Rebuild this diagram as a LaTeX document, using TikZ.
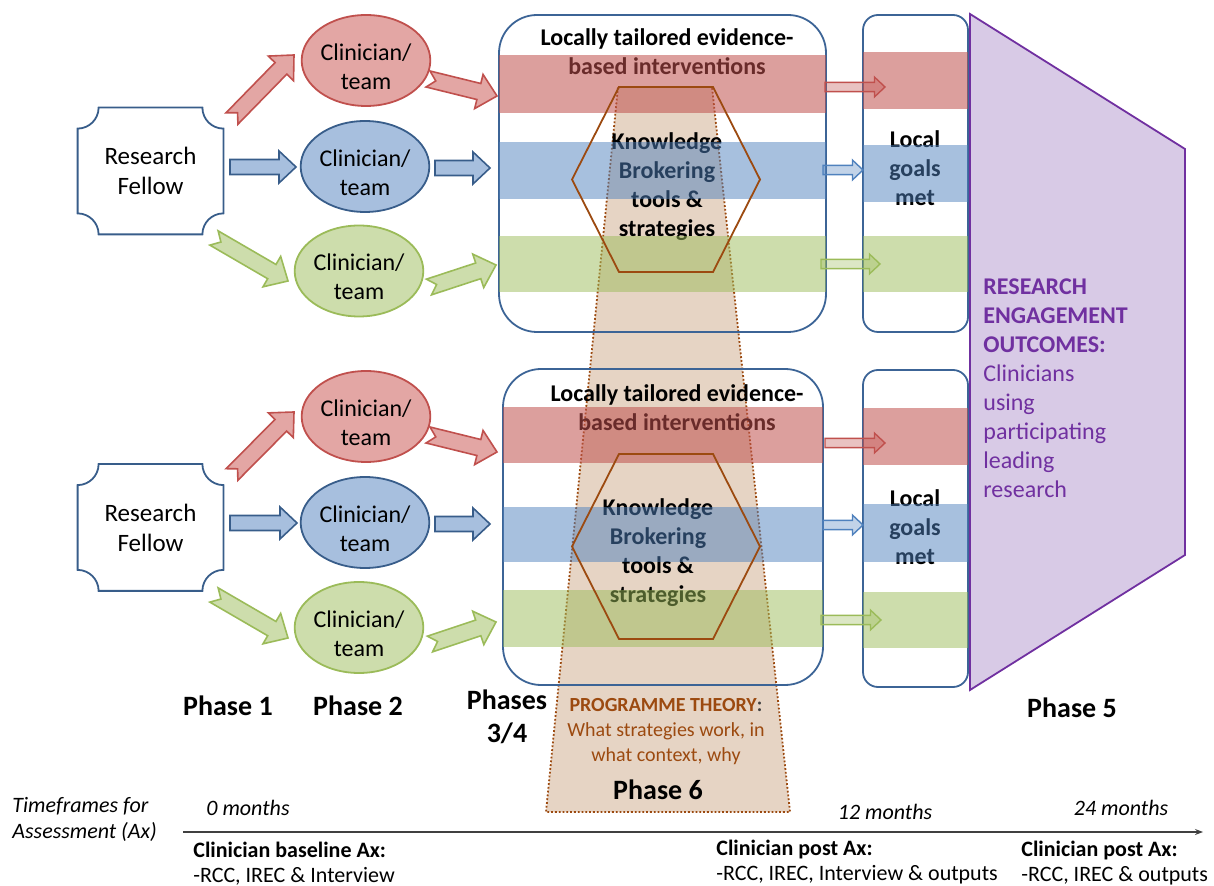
\documentclass[tikz,border=0pt]{standalone}
\usepackage{fontspec}
\setmainfont{Carlito}
\usetikzlibrary{calc,shapes.geometric,arrows.meta}

\definecolor{offred}{HTML}{C0504D}
\definecolor{offblue}{HTML}{4F81BD}
\definecolor{offgreen}{HTML}{9BBB59}
\definecolor{darkblue}{HTML}{385D8A}
\definecolor{boxblue}{HTML}{3C6496}
\definecolor{lightred}{HTML}{E3A6A4}
\definecolor{lightblue}{HTML}{A7BFDE}
\definecolor{lightgreen}{HTML}{CDDDAC}
\definecolor{brownline}{HTML}{9C4A10}
\definecolor{tanfill}{HTML}{CDA989}
\definecolor{purpleline}{HTML}{7030A0}
\definecolor{purplefill}{HTML}{D8CAE6}

\tikzset{
  txt/.style={inner sep=0pt, align=center, font=\fontsize{12}{14.5}\selectfont},
  txtb/.style={inner sep=0pt, align=center, font=\fontsize{12}{14.5}\selectfont\bfseries},
  phase/.style={inner sep=0pt, align=center, font=\fontsize{14}{16.5}\selectfont\bfseries},
  small/.style={inner sep=0pt, align=left, font=\fontsize{11}{12.5}\selectfont},
  clin/.style={ellipse, draw=#1, line width=0.9pt, minimum width=63pt, minimum height=45.5pt, txt, text height=29pt, text depth=0pt},
  rfbox/.style={minimum width=72.5pt, minimum height=63pt, txt, font=\fontsize{12.5}{15}\selectfont},
  rfline/.style={draw=darkblue, line width=0.9pt},
  bigbox/.style={draw=boxblue, line width=0.9pt, rounded corners=19pt, minimum width=163.5pt, minimum height=158.5pt, inner sep=0pt},
  goalbox/.style={draw=boxblue, line width=0.9pt, rounded corners=7.5pt, minimum width=52.5pt, minimum height=158.5pt, inner sep=0pt},
  bandred/.style={fill=offred, fill opacity=0.55},
  bandblue/.style={fill=offblue, fill opacity=0.5},
  bandgreen/.style={fill=offgreen, fill opacity=0.5},
  hexline/.style={draw=brownline, line width=0.9pt},
  arrred/.style={draw=offred, fill=lightred, line width=0.8pt},
  arrblue/.style={draw=darkblue, fill=lightblue, line width=0.8pt},
  arrgreen/.style={draw=offgreen, fill=lightgreen, line width=0.8pt},
  thinred/.style={draw=offred, fill=offred, fill opacity=0.35, line width=0.7pt},
  thinblue/.style={draw=offblue, fill=offblue, fill opacity=0.35, line width=0.7pt},
  thingreen/.style={draw=offgreen, fill=offgreen, fill opacity=0.35, line width=0.7pt},
}

% block arrow: [style]{from}{to}{notch depth}{width factor}
\newcommand{\blockarrow}[5][]{%
  \pgfmathsetlengthmacro\bash{3.75pt*#5}%
  \pgfmathsetlengthmacro\bahw{8pt*#5}%
  \pgfmathsetlengthmacro\bahl{8.5pt*#5}%
  \coordinate (bah) at ($(#3)!\bahl!(#2)$);
  \coordinate (ban) at ($(#2)!#4!(#3)$);
  \draw[#1] ($(#2)!\bash!90:(#3)$) -- ($(bah)!\bash!90:(#3)$) -- ($(bah)!\bahw!90:(#3)$) -- (#3) -- ($(bah)!\bahw!-90:(#3)$) -- ($(bah)!\bash!-90:(#3)$) -- ($(#2)!\bash!-90:(#3)$) -- (ban) -- cycle;
}

\begin{document}
\begin{tikzpicture}[x=0.5pt,y=0.5pt,yscale=-1,xscale=1]
\useasboundingbox (0,0) rectangle (1214,886);

%Shape: Trapezoid (outcomes)
\draw[draw=purpleline, fill=purplefill, line width=0.9pt] (970,14) -- (1185,149) -- (1185,555) -- (970,690) -- cycle;
% Text Node
\node[anchor=west, inner sep=0pt, align=left, text=purpleline, font=\fontsize{12}{14.5}\selectfont] (ro) at (983,388) {\textbf{RESEARCH}\\\textbf{ENGAGEMENT}\\\textbf{OUTCOMES:}\\Clinicians\\using\\participating\\leading\\research};

%Shape: Trapezoid (phase 6)
\draw[draw=brownline, fill=tanfill, fill opacity=0.5, densely dotted, line width=0.9pt] (618,87) -- (712,87) -- (790,812) -- (546,812) -- cycle;

%Shape: Rounded Rect
\node[bigbox] (ib1) at (662.5,173.5) {};
\node[bigbox, minimum width=160pt, minimum height=158pt] (ib2) at (663,527) {};
\node[goalbox] (gb1) at (915.5,173.5) {};
\node[goalbox] (gb2) at (915.5,528.5) {};

% Text Node
\node[txtb] (lt1) at (667,52) {Locally tailored evidence-\\based interventions};
\node[txtb] (lt2) at (677,408) {Locally tailored evidence-\\based interventions};
\node[txtb] (kb1) at (667,187) {Knowledge\\Brokering\\tools \&\\strategies};
\node[txtb] (kb2) at (658,553) {Knowledge\\Brokering\\tools \&\\strategies};
\node[txtb] (lg1) at (915,168) {Local\\goals\\met};
\node[txtb] (lg2) at (915,527) {Local\\goals\\met};

%Straight Lines (box to goals)
\coordinate (s13) at (825,87);  \coordinate (e13) at (885,87);
\coordinate (s14) at (823,170); \coordinate (e14) at (863,170);
\coordinate (s15) at (821,264); \coordinate (e15) at (880,264);
\coordinate (s16) at (825,443); \coordinate (e16) at (885,443);
\coordinate (s17) at (823,525); \coordinate (e17) at (863,525);
\coordinate (s18) at (821,620); \coordinate (e18) at (881,620);
\blockarrow[thinred]{s13}{e13}{0pt}{0.62}
\blockarrow[thinblue]{s14}{e14}{0pt}{0.62}
\blockarrow[thingreen]{s15}{e15}{0pt}{0.62}
\blockarrow[thinred]{s16}{e16}{0pt}{0.62}
\blockarrow[thinblue]{s17}{e17}{0pt}{0.62}
\blockarrow[thingreen]{s18}{e18}{0pt}{0.62}

%Shape: Rectangle (bands)
\fill[bandred] (499,55) rectangle (826,113);
\fill[bandblue] (499,142) rectangle (826,199);
\fill[bandgreen] (499,236) rectangle (826,292);
\fill[bandred] (863,52) rectangle (968,109);
\fill[bandblue] (863,145) rectangle (968,202);
\fill[bandgreen] (863,236) rectangle (968,292);
\fill[bandred] (503,407) rectangle (823,463);
\fill[bandblue] (503,507) rectangle (823,562);
\fill[bandgreen] (503,590) rectangle (823,647);
\fill[bandred] (863,408) rectangle (968,465);
\fill[bandblue] (863,504) rectangle (968,562);
\fill[bandgreen] (863,592) rectangle (968,648);

%Shape: Hexagon
\coordinate (hx1) at (665,179.5);
\coordinate (hx2) at (665,546.5);
\foreach \h in {hx1,hx2}{
  \draw[hexline] ($(\h)+(-93,0)$) -- ++(47,-92.5) -- ++(94,0) -- ++(47,92.5) -- ++(-47,92.5) -- ++(-94,0) -- cycle;
}

%Shape: Research Fellow
\node[rfbox] (rf1) at (150.5,171) {Research\\Fellow};
\node[rfbox] (rf2) at (150.5,527.5) {Research\\Fellow};
\foreach \n in {rf1,rf2}{
  \draw[rfline] ($(\n.north west)+(21,0)$) -- ($(\n.north east)+(-21,0)$) .. controls ($(\n.north east)+(-21,11.6)$) and ($(\n.north east)+(-11.6,21)$) .. ($(\n.north east)+(0,21)$) -- ($(\n.south east)+(0,-21)$) .. controls ($(\n.south east)+(-11.6,-21)$) and ($(\n.south east)+(-21,-11.6)$) .. ($(\n.south east)+(-21,0)$) -- ($(\n.south west)+(21,0)$) .. controls ($(\n.south west)+(21,-11.6)$) and ($(\n.south west)+(11.6,-21)$) .. ($(\n.south west)+(0,-21)$) -- ($(\n.north west)+(0,21)$) .. controls ($(\n.north west)+(11.6,21)$) and ($(\n.north west)+(21,11.6)$) .. ($(\n.north west)+(21,0)$) -- cycle;
}

%Shape: Ellipse
\node[clin=offred, fill=lightred] (cr1) at (366,60.5) {Clinician/\\team};
\node[clin=darkblue, fill=lightblue] (cb1) at (365,166.5) {Clinician/\\team};
\node[clin=offgreen, fill=lightgreen] (cg1) at (359,271) {Clinician/\\team};
\node[clin=offred, fill=lightred] (cr2) at (366,416.5) {Clinician/\\team};
\node[clin=darkblue, fill=lightblue] (cb2) at (365,522.5) {Clinician/\\team};
\node[clin=offgreen, fill=lightgreen] (cg2) at (359,627.5) {Clinician/\\team};

%Straight Lines (block arrows)
\coordinate (s1) at (232,118.5); \coordinate (e1) at (294,55);
\coordinate (s2) at (230,167);   \coordinate (e2) at (296,167);
\coordinate (s3) at (214,238);   \coordinate (e3) at (288,281);
\coordinate (s4) at (428,79);    \coordinate (e4) at (497,96);
\coordinate (s5) at (435,168);   \coordinate (e5) at (490,168);
\coordinate (s6) at (429,287);   \coordinate (e6) at (496,265);
\coordinate (s7) at (232,474.5); \coordinate (e7) at (294,412);
\coordinate (s8) at (230,523);   \coordinate (e8) at (297,523);
\coordinate (s9) at (214,595);   \coordinate (e9) at (288,638);
\coordinate (s10) at (428,435);  \coordinate (e10) at (497,452);
\coordinate (s11) at (435,524);  \coordinate (e11) at (490,524);
\coordinate (s12) at (430,644);  \coordinate (e12) at (496,622);
\blockarrow[arrred]{s1}{e1}{4pt}{1.1}
\blockarrow[arrblue]{s2}{e2}{0pt}{1}
\blockarrow[arrgreen]{s3}{e3}{4pt}{1.1}
\blockarrow[arrred]{s4}{e4}{4pt}{1.1}
\blockarrow[arrblue]{s5}{e5}{0pt}{1}
\blockarrow[arrgreen]{s6}{e6}{4pt}{1.1}
\blockarrow[arrred]{s7}{e7}{4pt}{1.1}
\blockarrow[arrblue]{s8}{e8}{0pt}{1}
\blockarrow[arrgreen]{s9}{e9}{4pt}{1.1}
\blockarrow[arrred]{s10}{e10}{4pt}{1.1}
\blockarrow[arrblue]{s11}{e11}{0pt}{1}
\blockarrow[arrgreen]{s12}{e12}{4pt}{1.1}

% Text Node
\node[phase] (p1) at (228,706) {Phase 1};
\node[phase] (p2) at (358,706) {Phase 2};
\node[phase] (p34) at (507,717) {Phases\\3/4};
\node[phase] (p5) at (1072,708) {Phase 5};
\node[phase] (p6) at (658,790) {Phase 6};
% Text Node
\node[inner sep=0pt, align=center, text=brownline, font=\fontsize{10}{12.5}\selectfont] (pt) at (666,732) {\textbf{PROGRAMME THEORY}\textcolor{black!75}{\textbf{:}}\\What strategies work, in\\what context, why};

%Straight Lines (timeline)
\coordinate (tl0) at (183,832);
\coordinate (tl1) at (1203,832);
\draw[-{Stealth[length=4pt,width=3pt]}, line width=0.6pt, black!75] (tl0) -- (tl1);

% Text Node
\node[small, anchor=west, font=\fontsize{11}{13}\selectfont\itshape] (tf) at (12,819) {Timeframes for\\Assessment (Ax)};
\node[small, font=\fontsize{11}{13}\selectfont\itshape] (m0) at (248,808) {0 months};
\node[small, font=\fontsize{11}{13}\selectfont\itshape] (m12) at (885,812) {12 months};
\node[small, font=\fontsize{11}{13}\selectfont\itshape] (m24) at (1121,808) {24 months};
\node[small, anchor=west] (ax0) at (193,863.5) {\textbf{Clinician baseline Ax:}\\-RCC, IREC \& Interview};
\node[small, anchor=west] (ax12) at (716,862.5) {\textbf{Clinician post Ax:}\\-RCC, IREC, Interview \& outputs};
\node[small, anchor=west] (ax24) at (1021,863) {\textbf{Clinician post Ax:}\\-RCC, IREC \& outputs};

\end{tikzpicture}
\end{document}
